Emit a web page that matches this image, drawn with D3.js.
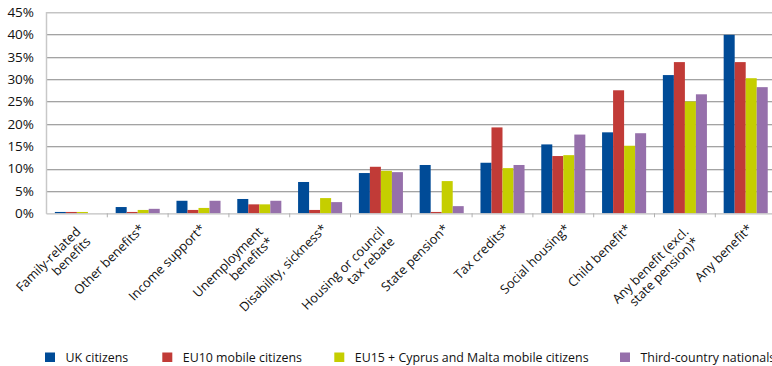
<!DOCTYPE html>
<html><head><meta charset="utf-8">
<script src="https://cdn.jsdelivr.net/npm/d3@7"></script>
<style>body{margin:0;background:#fff;overflow:hidden}svg{display:block}text{font-family:"Open Sans",sans-serif;fill:#111}</style>
</head><body>
<svg id="c" width="772" height="366"></svg>
<script>
const categories = [
  ["Family-related","benefits"],
  ["Other benefits*"],
  ["Income support*"],
  ["Unemployment","benefits*"],
  ["Disability, sickness*"],
  ["Housing or council","tax rebate"],
  ["State pension*"],
  ["Tax credits*"],
  ["Social housing*"],
  ["Child benefit*"],
  ["Any benefit (excl.","state pension)*"],
  ["Any benefit*"]
];
const seriesNames = ["UK citizens","EU10 mobile citizens","EU15 + Cyprus and Malta mobile citizens","Third-country nationals"];
const ukCitizens   = [0.3, 1.4, 2.8, 3.2, 7.0, 9.0, 10.8, 11.3, 15.4, 18.1, 30.9, 39.9];
const eu10Citizens = [0.3, 0.3, 0.75, 2.0, 0.75, 10.4, 0.3, 19.2, 12.8, 27.5, 33.8, 33.8];
const eu15Citizens = [0.3, 0.75, 1.2, 2.0, 3.4, 9.5, 7.2, 10.1, 13.0, 15.1, 25.0, 30.2];
const thirdCountry = [0.0, 1.0, 2.8, 2.8, 2.5, 9.2, 1.6, 10.8, 17.6, 17.9, 26.6, 28.2];
const yTicks = [0,5,10,15,20,25,30,35,40,45];
const colors = ["#004b97","#c13b37","#c5ce00","#9670ab"];

(function(){
const series = [ukCitizens, eu10Citizens, eu15Citizens, thirdCountry];
const svg = d3.select("#c");
const left = 46.5, bw = 60.8, bottomY = 213.3, topY = 12;
const x = d3.scaleBand().domain(d3.range(categories.length)).range([left, left + bw*categories.length]).padding(0);
const xi = d3.scaleBand().domain(d3.range(series.length)).range([0, x.bandwidth()]).paddingInner(0).paddingOuter(0.76);
const y = d3.scaleLinear().domain([0,45]).range([bottomY, topY]);

// gridlines
const g = svg.append("g");
g.selectAll("line.sh").data(yTicks.filter(d=>d>0)).join("line")
  .attr("x1", left).attr("x2", 772).attr("y1", d=>Math.round(y(d))+1.5).attr("y2", d=>Math.round(y(d))+1.5)
  .attr("stroke","#e2e2e2").attr("stroke-width",1);
g.selectAll("line.gr").data(yTicks.filter(d=>d>0)).join("line")
  .attr("x1", left).attr("x2", 772).attr("y1", d=>Math.round(y(d))+0.5).attr("y2", d=>Math.round(y(d))+0.5)
  .attr("stroke", d=> d===45 ? "#c4c4c4" : "#a3a3a3").attr("stroke-width",1);

// y axis line
svg.append("line").attr("x1",left).attr("x2",left).attr("y1",topY).attr("y2",bottomY+0.5)
  .attr("stroke","#c8c8c8").attr("stroke-width",1.5);

// y labels
svg.append("g").selectAll("text").data(yTicks).join("text")
  .attr("x", 34).attr("y", d=>y(d)).attr("dy","0.36em").attr("text-anchor","end")
  .style("font-size","13.5px").text(d=>d+"%");

// bars
const bg = svg.append("g");
series.forEach((vals, si) => {
  bg.selectAll(null).data(vals).join("rect")
    .attr("x", (d,i)=> x(i) + xi(si))
    .attr("width", xi.bandwidth())
    .attr("y", d=> y(d))
    .attr("height", d=> y(0)-y(d))
    .attr("fill", colors[si]);
});

// x axis
svg.append("line").attr("x1",left).attr("x2",772).attr("y1",bottomY+0.5).attr("y2",bottomY+0.5)
  .attr("stroke","#c0c0c0").attr("stroke-width",1.2);
svg.append("g").selectAll("line").data(d3.range(1,categories.length)).join("line")
  .attr("x1", i=>x(i)).attr("x2", i=>x(i)).attr("y1",bottomY).attr("y2",bottomY+4)
  .attr("stroke","#b0b0b0").attr("stroke-width",1);

// x labels rotated
const lg = svg.append("g");
categories.forEach((lines, i) => {
  const cx = x(i) + x.bandwidth()/2;
  const t = lg.append("text")
    .attr("transform", `translate(${cx + (lines.length>1 ? -2 : 1)},${lines.length>1 ? 226 : 223}) rotate(-45)`)
    .attr("text-anchor","end").style("font-size","12.8px");
  lines.forEach((ln, k) => {
    t.append("tspan").attr("x",0).attr("dy", k===0 ? "0.72em" : "1.1em").text(ln);
  });
});

// legend
const legX = [45, 162.3, 334.3, 620];
const leg = svg.append("g");
seriesNames.forEach((n, i) => {
  leg.append("rect").attr("x", legX[i]).attr("y", 352.5).attr("width", 10).attr("height", 9.5).attr("fill", colors[i]);
  leg.append("text").attr("x", legX[i] + 20.5).attr("y", 361.5).style("font-size","12.4px").text(n);
});
})();
</script>
</body></html>
